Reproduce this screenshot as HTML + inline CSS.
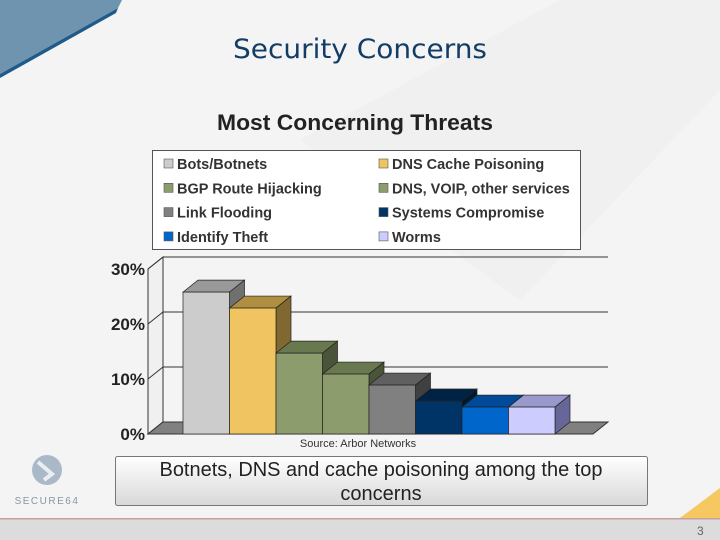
<!DOCTYPE html>
<html><head><meta charset="utf-8"><style>
html,body{margin:0;padding:0}
body{width:720px;height:540px;overflow:hidden;background:#f4f4f4;font-family:"Liberation Sans",sans-serif;position:relative}
</style></head><body>
<svg width="720" height="540" style="position:absolute;left:0;top:0">
<defs><linearGradient id="cap" x1="0" y1="0" x2="0" y2="1"><stop offset="0" stop-color="#ffffff"/><stop offset="1" stop-color="#d8d8d8"/></linearGradient></defs>
<polygon points="0,0 122,0 118,8 0,74" fill="#6e94b0"/>
<polygon points="0,74 118,8 116,13 0,78" fill="#1f5a88"/>
<polygon points="300,140 560,0 720,0 720,90 520,300" fill="#ececec" opacity="0.6"/>
<polygon points="680,518 720,488 720,518" fill="#f5c860"/>
<rect x="0" y="519" width="720" height="21" fill="#dcdcdc"/>
<rect x="0" y="518" width="720" height="1.5" fill="#c9a0a0"/>
<text x="697" y="535" font-size="12" fill="#666">3</text>
<text x="360" y="58" text-anchor="middle" font-family="DejaVu Sans,sans-serif" font-size="27" fill="#123d66" textLength="254" lengthAdjust="spacingAndGlyphs">Security Concerns</text>
<text x="355" y="130" text-anchor="middle" font-size="22" font-weight="bold" fill="#222" textLength="276" lengthAdjust="spacingAndGlyphs">Most Concerning Threats</text>
<g>
<rect x="152.5" y="150.5" width="428" height="99" fill="#fff" stroke="#555"/>
<g id="leg"></g>
</g>
<g id="chart"></g>
<text x="358" y="447" text-anchor="middle" font-size="11" fill="#333">Source: Arbor Networks</text>
<rect x="115.5" y="456.5" width="532" height="49" rx="2" fill="url(#cap)" stroke="#777"/>
<text x="381" y="476" text-anchor="middle" font-size="20" fill="#222" textLength="443" lengthAdjust="spacingAndGlyphs">Botnets, DNS and cache poisoning among the top</text>
<text x="381" y="500" text-anchor="middle" font-size="20" fill="#222">concerns</text>
<g>
<circle cx="47" cy="470" r="15" fill="#aab8c8"/>
<path d="M38,462 L52,474 L44,480" stroke="#e8eef4" stroke-width="4" fill="none"/>
<text x="47" y="504" text-anchor="middle" font-size="10" letter-spacing="1.5" fill="#8a96a2">SECURE64</text>
</g>
</svg>
<script>
const categories=["Bots/Botnets","DNS Cache Poisoning","BGP Route Hijacking","DNS, VOIP, other services","Link Flooding","Systems Compromise","Identify Theft","Worms"];
const values=[25.8,22.9,14.7,10.9,8.9,6.0,4.9,4.9];
const yTicks=[0,10,20,30];
const yTickLabels=["0%","10%","20%","30%"];
const colors=["#cccccc","#f0c460","#8c9c6c","#8c9c6c","#808080","#003366","#0066cc","#ccccff"];
const tops=["#999999","#b09040","#6a7850","#6a7850","#606060","#002244","#004a99","#9999cc"];
const sides=["#707070","#806830","#4a5438","#4a5438","#404040","#001830","#003570","#666699"];
const NS="http://www.w3.org/2000/svg";
function mk(t,a,p){const e=document.createElementNS(NS,t);for(const k in a)e.setAttribute(k,a[k]);p.appendChild(e);return e;}
const g=document.getElementById('chart');
const x0=148,y0=434,dx=15,dy=-12,xEnd=593,barStart=183,bw=46.5;
function Y(v){return y0-v*5.5;}
function X(i){return barStart+i*bw;}
mk('polygon',{points:`${x0},${y0} ${x0+dx},${y0+dy} ${x0+dx},${Y(30)+dy} ${x0},${Y(30)}`,fill:'#f0f0f0',stroke:'#444','stroke-width':1},g);
yTicks.forEach((t,i)=>{
  mk('line',{x1:x0+dx,y1:Y(t)+dy,x2:xEnd+dx,y2:Y(t)+dy,stroke:'#333','stroke-width':1},g);
  mk('line',{x1:x0,y1:Y(t),x2:x0+dx,y2:Y(t)+dy,stroke:'#333','stroke-width':1},g);
  const tx=mk('text',{x:145,y:Y(t)+6,'text-anchor':'end','font-size':17,'font-weight':'bold',fill:'#222'},g);
  tx.textContent=yTickLabels[i];
  
  
});
mk('line',{x1:x0+dx,y1:Y(30)+dy,x2:x0+dx,y2:y0+dy,stroke:'#333'},g);
mk('line',{x1:x0,y1:Y(30),x2:x0,y2:y0,stroke:'#333'},g);
const fl=mk('polygon',{points:`${x0},${y0} ${x0+dx},${y0+dy} ${xEnd+dx},${y0+dy} ${xEnd},${y0}`,fill:'#808080',stroke:'#333'},g);


values.forEach((v,i)=>{
  const bx=X(i),top=Y(v);
  const bg=mk('g',{},g);
  
  
  mk('polygon',{points:`${bx},${top} ${bx+dx},${top+dy} ${bx+bw+dx},${top+dy} ${bx+bw},${top}`,fill:tops[i],stroke:'#222','stroke-width':0.7},bg);
  mk('polygon',{points:`${bx+bw},${top} ${bx+bw+dx},${top+dy} ${bx+bw+dx},${y0+dy} ${bx+bw},${y0}`,fill:sides[i],stroke:'#222','stroke-width':0.7},bg);
  mk('rect',{x:bx,y:top,width:bw,height:y0-top,fill:colors[i],stroke:'#222','stroke-width':0.7},bg);
});
const lg=document.getElementById('leg');
categories.forEach((c,i)=>{
  const col=i%2,row=Math.floor(i/2);
  const lx=col?379:164,ly=164+row*24.3;
  const e=mk('g',{},lg);
  
  
  mk('rect',{x:lx,y:ly-5,width:9,height:9,fill:colors[i],stroke:'#555','stroke-width':0.6},e);
  const t=mk('text',{x:lx+13,y:ly+5,'font-size':14.5,'font-weight':'bold',fill:'#333'},e);
  t.textContent=c;
});
</script>
</body></html>
